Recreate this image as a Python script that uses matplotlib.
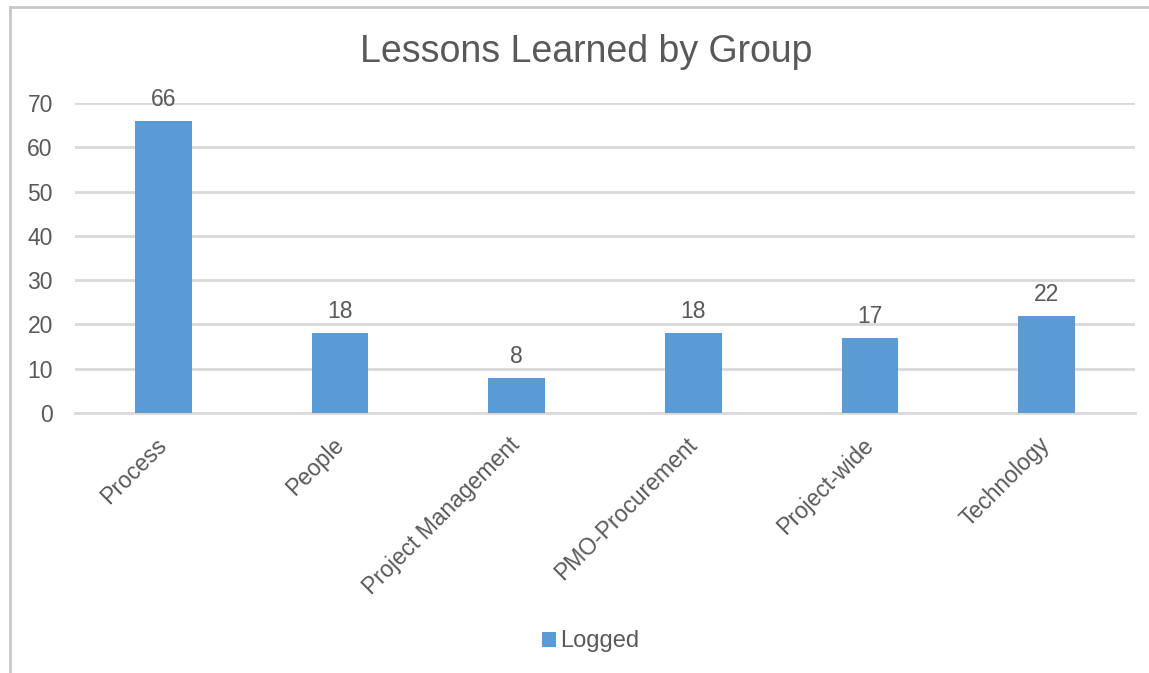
import matplotlib
matplotlib.use("Agg")
import matplotlib.pyplot as plt
from matplotlib.lines import Line2D
from matplotlib.transforms import ScaledTranslation

categories = ["Process", "People", "Project Management", "PMO-Procurement", "Project-wide", "Technology"]
logged = [66, 18, 8, 18, 17, 22]
series_name = "Logged"
title = "Lessons Learned by Group"
y_ticks = [0, 10, 20, 30, 40, 50, 60, 70]

plt.rcParams["font.family"] = ["Liberation Sans", "DejaVu Sans"]
text_color = "#595959"
bar_color = "#5b9bd5"
grid_color = "#d9d9d9"

fig = plt.figure(figsize=(11.49, 6.73), dpi=100)
ax = fig.add_axes([0.0653, 0.3863, 0.9225, 0.4607])

x = list(range(len(categories)))
bars = ax.bar(x, logged, width=0.32, color=bar_color, label=series_name, zorder=3)
for xi, v in zip(x, logged):
    ax.annotate(str(v), (xi, v), xytext=(0, 10), textcoords="offset pixels",
                ha="center", va="bottom", fontsize=16.5, color=text_color)

ax.set_xlim(-0.5, len(categories) - 0.5)
ax.set_ylim(0, 70)
ax.set_yticks(y_ticks)
ax.set_yticklabels([str(t) for t in y_ticks], fontsize=16.5, color=text_color)
ax.yaxis.grid(True, color=grid_color, linewidth=2, zorder=0)
ax.set_axisbelow(True)
ax.tick_params(axis="y", length=0, pad=16)
ax.tick_params(axis="x", length=0, pad=16)
ax.set_xticks(x)
ax.set_xticklabels(categories, rotation=45, ha="right", va="top", rotation_mode="anchor",
                   fontsize=16.5, color=text_color)
shift = ScaledTranslation(-8 / 100, 2 / 100, fig.dpi_scale_trans)
for lbl in ax.get_xticklabels():
    lbl.set_transform(lbl.get_transform() + shift)
for s in ["top", "right", "left"]:
    ax.spines[s].set_visible(False)
ax.spines["bottom"].set_color(grid_color)
ax.spines["bottom"].set_linewidth(2)

fig.text(0.51, 0.922, title, ha="center", va="center", fontsize=27, color=text_color)

fig.legend(handles=[bars], labels=[series_name], loc="center", bbox_to_anchor=(0.514, 0.047),
           frameon=False, fontsize=17, handlelength=0.6, handleheight=0.6, handletextpad=0.2,
           labelcolor=text_color)

# chart frame edges
fig.add_artist(Line2D([0.0087, 0.0087], [0.0, 0.99], transform=fig.transFigure,
                      color="#c8c8c8", linewidth=2))
fig.add_artist(Line2D([0.0087, 1.0], [0.99, 0.99], transform=fig.transFigure,
                      color="#c8c8c8", linewidth=2))

fig.savefig("out.png", dpi=100)
